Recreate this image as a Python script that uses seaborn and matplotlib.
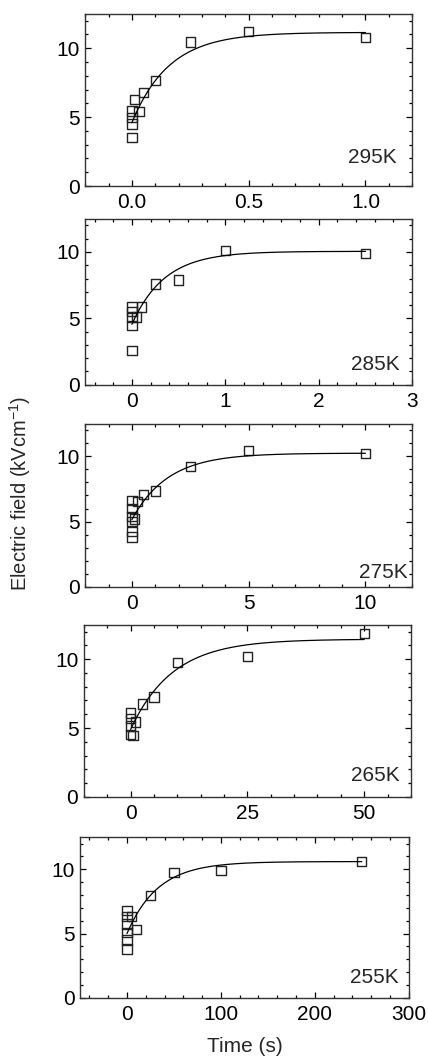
import numpy as np
import pandas as pd
import matplotlib.pyplot as plt
import seaborn as sns
from matplotlib.ticker import AutoMinorLocator, MultipleLocator

# measured points, one pair of lists per temperature
temps = ['295K', '285K', '275K', '265K', '255K']

t_295 = [0.0, 0.0, 0.0, 0.0, 0.01, 0.03, 0.05, 0.1, 0.25, 0.5, 1.0]
e_295 = [3.5, 4.5, 4.95, 5.45, 6.3, 5.4, 6.8, 7.65, 10.45, 11.2, 10.8]

t_285 = [0.0, 0.0, 0.0, 0.0, 0.0, 0.05, 0.1, 0.25, 0.5, 1.0, 2.5]
e_285 = [2.6, 4.45, 5.05, 5.5, 5.85, 5.1, 5.85, 7.6, 7.9, 10.1, 9.9]

t_275 = [0.0, 0.0, 0.0, 0.0, 0.0, 0.0, 0.1, 0.25, 0.5, 1.0, 2.5, 5.0, 10.0]
e_275 = [3.8, 4.25, 5.0, 5.4, 6.0, 6.6, 5.2, 6.55, 7.05, 7.35, 9.25, 10.45, 10.2]

t_265 = [0.0, 0.0, 0.0, 0.0, 0.5, 1.0, 2.5, 5.0, 10.0, 25.0, 50.0]
e_265 = [4.55, 5.15, 5.7, 6.1, 4.45, 5.45, 6.75, 7.25, 9.75, 10.2, 11.85]

t_255 = [0.0, 0.0, 0.0, 0.0, 0.0, 0.0, 5.0, 10.0, 25.0, 50.0, 100.0, 250.0]
e_255 = [3.8, 4.5, 5.1, 5.75, 6.3, 6.8, 6.3, 5.3, 7.95, 9.75, 9.9, 10.6]

# exponential fit parameters: plateau, amplitude, tau (s)
fit_plateau = [11.15, 10.05, 10.25, 11.45, 10.6]
fit_amp = [6.55, 5.5, 5.1, 6.55, 5.6]
fit_tau = [0.16, 0.35, 1.55, 9.0, 33.0]

xlims = [(-0.2, 1.2), (-0.5, 3), (-2, 12), (-10, 60), (-50, 300)]
xmajor = [0.5, 1, 5, 25, 100]

times = [t_295, t_285, t_275, t_265, t_255]
fields = [e_295, e_285, e_275, e_265, e_255]

# axes boxes in figure fractions (left, bottom, width, height)
boxes = [(0.199, 0.824, 0.764, 0.163),
         (0.199, 0.636, 0.764, 0.157),
         (0.199, 0.445, 0.764, 0.154),
         (0.196, 0.246, 0.764, 0.163),
         (0.187, 0.056, 0.768, 0.152)]
# temperature label anchor (right edge, centre) in axes fractions
label_pos = [(0.954, 0.163), (0.963, 0.12), (0.985, 0.085), (0.966, 0.122), (0.97, 0.124)]

sns.set_style("ticks")
plt.rcParams['font.family'] = ['Liberation Sans', 'DejaVu Sans']
plt.rcParams['mathtext.fontset'] = 'custom'
plt.rcParams['mathtext.rm'] = 'Liberation Sans'

fig = plt.figure(figsize=(4.28, 10.57), dpi=100)

for i, temp in enumerate(temps):
    ax = fig.add_axes(boxes[i])
    df = pd.DataFrame({'time': times[i], 'field': fields[i]})
    x_fit = np.linspace(0, max(times[i]), 300)
    fit = pd.DataFrame({'time': x_fit,
                        'field': fit_plateau[i] - fit_amp[i] * np.exp(-x_fit / fit_tau[i])})
    sns.lineplot(data=fit, x='time', y='field', color='black', lw=0.9, ax=ax)
    sns.scatterplot(data=df, x='time', y='field', marker='s', s=45,
                    facecolor='none', edgecolor='#222222', linewidth=1.0, ax=ax)
    ax.set_xlim(*xlims[i])
    ax.set_ylim(0, 12.5)
    ax.xaxis.set_major_locator(MultipleLocator(xmajor[i]))
    ax.yaxis.set_major_locator(MultipleLocator(5))
    ax.xaxis.set_minor_locator(AutoMinorLocator(5))
    ax.yaxis.set_minor_locator(AutoMinorLocator(5))
    ax.tick_params(which='both', direction='in', top=True, right=True,
                   labelsize=15, colors='black', width=0.9)
    ax.tick_params(which='major', length=4)
    ax.tick_params(which='minor', length=2.5)
    ax.tick_params(axis='x', pad=5)
    ax.tick_params(axis='y', pad=4)
    for sp in ax.spines.values():
        sp.set_color('#333333')
        sp.set_linewidth(1.0)
    if i == 0:
        ax.xaxis.set_major_formatter(plt.FormatStrFormatter('%.1f'))
    ax.set_xlabel('')
    ax.set_ylabel('')
    ax.text(label_pos[i][0], label_pos[i][1], temp, transform=ax.transAxes,
            ha='right', va='center', fontsize=15)

fig.text(0.047, 0.533, 'Electric field (kVcm$^{-1}$)', rotation=90,
         ha='center', va='center', fontsize=14.5)
fig.text(0.572, 0.0095, 'Time (s)', ha='center', va='center', fontsize=15)

fig.savefig('out.png', dpi=100)
